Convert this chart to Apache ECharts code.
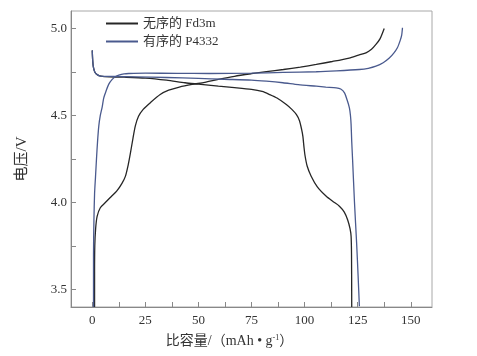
<!DOCTYPE html>
<html><head><meta charset="utf-8">
<script src="https://cdn.jsdelivr.net/npm/echarts@6/dist/echarts.min.js"></script>
<style>html,body{margin:0;padding:0;background:#fff}#c{width:477px;height:356px}</style>
</head><body><div id="c"></div>
<script>
var seriesNames = ["无序的 Fd3m", "有序的 P4332"];
var xLabelValues = [0, 25, 50, 75, 100, 125, 150];
var xTickValues = [0, 12.5, 25, 37.5, 50, 62.5, 75, 87.5, 100, 112.5, 125, 137.5, 150];
var yLabelValues = [3.5, 4.0, 4.5, 5.0];
var yTickValues = [3.5, 3.75, 4.0, 4.25, 4.5, 4.75, 5.0];

var fd3mCharge = [[1.1,3.40],[1.1,3.60],[1.2,3.75],[1.6,3.85],[2.3,3.92],[3.8,3.97],[6.2,4.00],[9,4.035],[11.5,4.065],[14,4.11],[15.6,4.15],[17,4.22],[18,4.285],[19.2,4.37],[20.3,4.44],[21.8,4.495],[24,4.535],[27.5,4.575],[32,4.62],[36,4.645],[41,4.663],[47,4.678],[53,4.69],[59.4,4.707],[67,4.725],[75,4.74],[82,4.752],[90,4.764],[98,4.778],[105.5,4.793],[113,4.81],[121,4.83],[125,4.845],[128.9,4.86],[131.5,4.88],[133.6,4.908],[135.5,4.94],[137.5,5.00]];
var fd3mDischarge = [[0,4.874],[0.2,4.82],[0.5,4.78],[1.2,4.75],[2.5,4.733],[4,4.726],[8,4.722],[15,4.72],[25,4.715],[35,4.703],[43.7,4.688],[50,4.68],[59.4,4.668],[67,4.66],[75,4.65],[80,4.638],[83.6,4.62],[87,4.6],[91.4,4.563],[94,4.535],[96.1,4.506],[97.6,4.47],[98.6,4.42],[99.2,4.38],[99.7,4.32],[100.2,4.27],[101.2,4.21],[103.1,4.151],[106,4.09],[110.2,4.036],[113.5,4.005],[116.4,3.979],[118.7,3.945],[120.3,3.90],[121.4,3.85],[121.9,3.806],[122.1,3.70],[122.2,3.40]];
var p4332Charge = [[0.6,3.40],[0.6,3.7],[0.8,3.9],[1.1,4.05],[1.55,4.15],[2.0,4.25],[2.5,4.35],[3.1,4.44],[3.8,4.5],[4.7,4.55],[5.4,4.60],[6.5,4.64],[7.8,4.68],[9.4,4.707],[11,4.724],[12.5,4.732],[15,4.739],[17.2,4.741],[25,4.743],[40,4.742],[55,4.741],[75,4.743],[90,4.747],[105.5,4.751],[115,4.756],[125.8,4.764],[130,4.771],[133.6,4.783],[137,4.803],[139.9,4.83],[142,4.858],[143.7,4.889],[145,4.93],[145.7,4.96],[146.1,5.004]];
var p4332Discharge = [[0,4.874],[0.2,4.82],[0.5,4.78],[1.2,4.75],[2.5,4.733],[4,4.726],[10,4.724],[20,4.722],[35,4.718],[50,4.713],[62,4.708],[75,4.703],[82,4.697],[89.8,4.688],[97,4.677],[105.5,4.668],[110,4.663],[114.9,4.659],[117,4.652],[118.8,4.63],[120,4.59],[121.1,4.544],[121.6,4.50],[121.9,4.448],[122.2,4.35],[122.6,4.247],[123.5,4.0],[124.5,3.768],[125.2,3.58],[125.8,3.404]];

var FONT = "'Liberation Serif', 'Noto Sans CJK SC', serif";
var colors = ['#262626', '#4a5a8e'];

function mk(name, data, color) {
  return {
    type: 'line', name: name, data: data, symbol: 'none', smooth: 0.25,
    lineStyle: {color: color, width: 1.3}, itemStyle: {color: color},
    animation: false
  };
}

var chart = echarts.init(document.getElementById('c'));
chart.setOption({
  animation: false,
  backgroundColor: '#fff',
  grid: {left: 71, right: 45, top: 11, bottom: 49, show: true, borderColor: '#a8a8a8', borderWidth: 1},
  legend: {
    left: 100, top: 12, orient: 'vertical', itemWidth: 32, itemHeight: 12, itemGap: 5,
    data: seriesNames,
    itemStyle: {opacity: 0},
    textStyle: {fontFamily: FONT, fontSize: 13, color: '#333'}
  },
  xAxis: {
    type: 'value', min: -10, max: 160,
    name: '比容量/（mAh • g{sup|-1}）', nameLocation: 'middle', nameGap: 27,
    nameTextStyle: {fontFamily: FONT, fontSize: 14, color: '#333', padding: [0, 44, 0, 0],
      rich: {sup: {fontFamily: FONT, fontSize: 8, color: '#333', verticalAlign: 'top', padding: [0, 0, 6, 0]}}},
    axisLine: {onZero: false, lineStyle: {color: '#888'}},
    axisTick: {inside: true, length: 5, lineStyle: {color: '#888'}, customValues: xTickValues},
    axisLabel: {fontFamily: FONT, fontSize: 13, color: '#333', margin: 7, customValues: xLabelValues},
    splitLine: {show: false}
  },
  yAxis: {
    type: 'value', min: 3.4, max: 5.1,
    name: '电压/V', nameLocation: 'middle', nameGap: 41,
    nameTextStyle: {fontFamily: FONT, fontSize: 15, color: '#333'},
    axisLine: {show: true, onZero: false, lineStyle: {color: '#888'}},
    axisTick: {show: true, inside: true, length: 5, lineStyle: {color: '#888'}, customValues: yTickValues},
    axisLabel: {fontFamily: FONT, fontSize: 13, color: '#333', margin: 4, customValues: yLabelValues,
      formatter: function (v) { return v.toFixed(1); }},
    splitLine: {show: false}
  },
  series: [
    mk(seriesNames[0], fd3mCharge, colors[0]),
    mk(seriesNames[0], fd3mDischarge, colors[0]),
    mk(seriesNames[1], p4332Charge, colors[1]),
    mk(seriesNames[1], p4332Discharge, colors[1])
  ]
});
</script></body></html>
